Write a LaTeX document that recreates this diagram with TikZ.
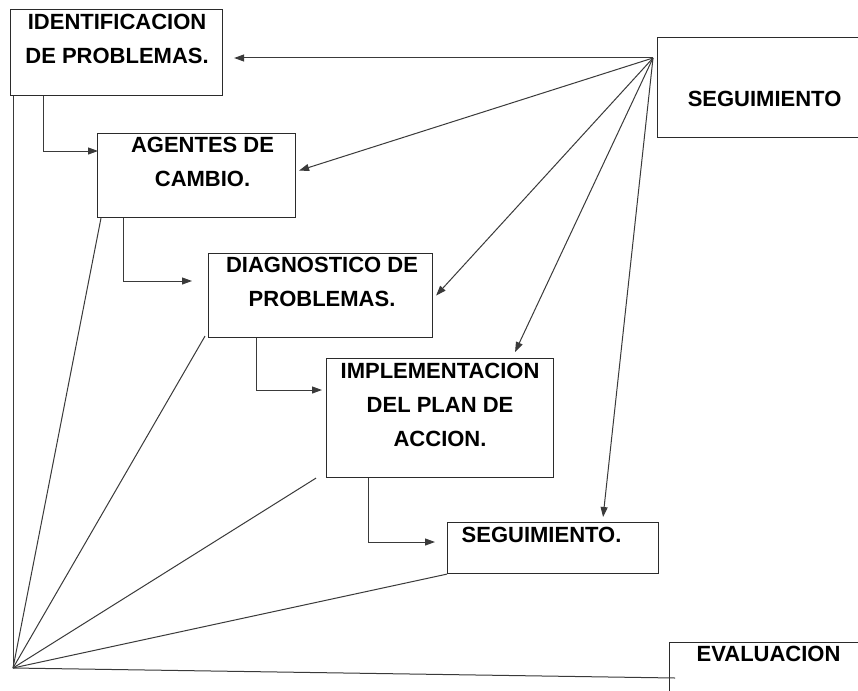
\documentclass[tikz,border=0pt]{standalone}
\usepackage{fontspec}
\setmainfont{Liberation Sans}
\usepackage{tikz}
\usetikzlibrary{arrows.meta,calc,positioning}
\definecolor{ink}{HTML}{2B2B2B}
\definecolor{wire}{HTML}{3A3A3A}
\tikzset{
  box/.style={draw=ink,line width=1.1pt,rectangle,inner sep=0pt,anchor=north west},
  txt/.style={font=\fontsize{22}{34}\selectfont\bfseries,text=black,inner sep=0pt,align=center,anchor=north},
  ln/.style={draw=wire,line width=1pt},
  arr/.style={draw=wire,line width=1pt,-{Triangle[length=10pt,width=7pt]}},
}
\begin{document}
\begin{tikzpicture}[x=1pt,y=-1pt]
  \useasboundingbox (0,0) rectangle (858,690);
  \fill[white] (0,0) rectangle (858,690);
  \clip (0,0) rectangle (858,690);
  % ---------- steps ----------
  \node[box,minimum width=212pt,minimum height=86pt] (ident) at (10,9) {};
  \node[box,minimum width=198pt,minimum height=84pt] (ag) at (97,133) {};
  \node[box,minimum width=224pt,minimum height=84pt] (diag) at (208,253) {};
  \node[box,minimum width=227pt,minimum height=119pt] (impl) at (326,358) {};
  \node[box,minimum width=211pt,minimum height=51pt] (seg) at (447,522) {};
  \node[box,minimum width=222pt,minimum height=100pt] (segtop) at (657,37) {};
  \node[box,minimum width=222pt,minimum height=80pt] (eval) at (669,642) {};
  % ---------- texts ----------
  \node[txt] (identtxt) at ($(ident.north)+(0.5,5)$) {IDENTIFICACION\\DE PROBLEMAS.};
  \node[txt] (agtxt) at ($(ag.north)+(6,4)$) {AGENTES DE\\CAMBIO.};
  \node[txt] (diagtxt) at ($(diag.north)+(1.5,4)$) {DIAGNOSTICO DE\\PROBLEMAS.};
  \node[txt] (impltxt) at ($(impl.north)+(0,5)$) {IMPLEMENTACION\\DEL PLAN DE\\ACCION.};
  \node[txt] (segtxt) at ($(seg.north)+(-11.5,5)$) {SEGUIMIENTO.};
  \node[txt] (segtoptxt) at ($(segtop.north)+(-4,54)$) {SEGUIMIENTO};
  \node[txt] (evaltxt) at ($(eval.north)+(-12,4)$) {EVALUACION};
  % ---------- hubs ----------
  \coordinate (hub) at (653,58);
  \coordinate (base) at (13,668);
  % ---------- steps in order ----------
  \draw[arr] ($(ident.south west)+(33,0)$) |- ($(ag.north west)+(1,18)$);
  \draw[arr] ($(ag.south west)+(26,0)$) |- ($(diag.north west)+(-16,28)$);
  \draw[arr] ($(diag.south west)+(48,0)$) |- ($(impl.north west)+(-4,32)$);
  \draw[arr] ($(impl.south west)+(42,0)$) |- ($(seg.north west)+(-12,20)$);
  % ---------- fan from SEGUIMIENTO ----------
  \draw[arr] (hub) -- ($(ident.east |- hub)+(11,0)$);
  \draw[arr] (hub) -- ($(ag.east)+(3,-5)$);
  \draw[arr] (hub) -- ($(diag.east)+(3,0)$);
  \draw[arr] (hub) -- ($(impl.north)+(75,-6)$);
  \draw[arr] (hub) -- ($(seg.north)+(50,-5)$);
  % ---------- fan to EVALUACION ----------
  \draw[ln] (base) -- ($(ident.south west)+(3,0)$);
  \draw[ln] (base) -- ($(ag.south west)+(4,0)$);
  \draw[ln] (base) -- ($(diag.south west)+(-3,-2)$);
  \draw[ln] (base) -- ($(impl.south west)+(-10,0)$);
  \draw[ln] (base) -- (seg.south west);
  \draw[ln] (base) -- ($(eval.north west)+(6,36)$);
\end{tikzpicture}
\end{document}
